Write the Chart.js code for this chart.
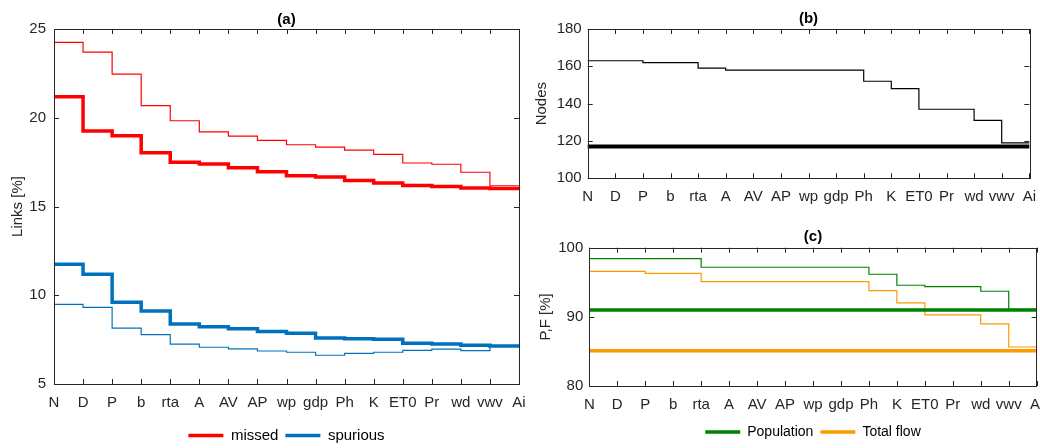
<!DOCTYPE html>
<html>
<head>
<meta charset="utf-8">
<script src="https://cdn.jsdelivr.net/npm/chart.js@4.4.1/dist/chart.umd.min.js"></script>
<style>
  html, body { margin: 0; padding: 0; background: #fff; }
  body { width: 1040px; height: 448px; overflow: hidden; position: relative; }
  canvas { position: absolute; }
</style>
</head>
<body>
<canvas id="chartA" width="550" height="453" style="left:0;top:0"></canvas>
<canvas id="chartB" width="530" height="215" style="left:530px;top:0"></canvas>
<canvas id="chartC" width="530" height="234" style="left:530px;top:215px"></canvas>
<script>
const cats = ["N", "D", "P", "b", "rta", "A", "AV", "AP", "wp", "gdp", "Ph", "K", "ET0", "Pr", "wd", "vwv", "Ai"];

// (a) links
const missedThick = [21.19, 19.25, 18.99, 18.03, 17.49, 17.39, 17.19, 16.96, 16.73, 16.66, 16.47, 16.32, 16.19, 16.12, 16.04, 16.02, 16.02];
const missedThin = [24.25, 23.7, 22.46, 20.68, 19.83, 19.2, 18.97, 18.73, 18.48, 18.34, 18.18, 17.94, 17.45, 17.38, 16.93, 16.17, 16.17];
const spuriousThick = [11.74, 11.18, 9.6, 9.11, 8.38, 8.23, 8.11, 7.96, 7.86, 7.59, 7.55, 7.52, 7.29, 7.25, 7.18, 7.14, 7.14];
const spuriousThin = [9.49, 9.32, 8.15, 7.78, 7.25, 7.07, 6.98, 6.86, 6.79, 6.62, 6.73, 6.79, 6.9, 6.96, 6.88, 7.12, 7.12];

// (b) nodes
const nodes = [163, 163, 162, 162, 159, 158, 158, 158, 158, 158, 152, 148, 137, 137, 131, 119, 119];
const nodesTotal = 117;

// (c) population / total flow
const population = [98.41, 98.41, 98.41, 98.41, 97.17, 97.17, 97.17, 97.17, 97.17, 97.17, 96.16, 94.57, 94.37, 94.37, 93.7, 91.1, 91.1];
const flow = [96.59, 96.59, 96.3, 96.3, 95.1, 95.1, 95.1, 95.1, 95.1, 95.1, 93.8, 92.03, 90.28, 90.28, 88.97, 85.64, 85.64];
const populationTotal = 91.0;
const flowTotal = 85.1;

const axisColor = "#262626";
const RED = "#ff0000", BLUE = "#0072bd", GREEN = "#008000", ORANGE = "#ff9900";

Chart.defaults.font.family = '"Liberation Sans", Arial, Helvetica, sans-serif';
Chart.defaults.font.size = 15;
Chart.defaults.color = axisColor;

// matlab style box with inward ticks
const boxPlugin = {
  id: "box",
  afterDatasetsDraw(chart) {
    const { ctx, chartArea: a, scales: { x, y } } = chart;
    const len = 5;
    ctx.save();
    ctx.strokeStyle = axisColor;
    ctx.lineWidth = 1;
    ctx.beginPath();
    x.ticks.forEach((t, i) => {
      const px = Math.round(x.getPixelForTick(i)) + 0.5;
      ctx.moveTo(px, a.bottom); ctx.lineTo(px, a.bottom - len);
      ctx.moveTo(px, a.top); ctx.lineTo(px, a.top + len);
    });
    y.ticks.forEach((t, i) => {
      const py = Math.round(y.getPixelForTick(i)) + 0.5;
      ctx.moveTo(a.left, py); ctx.lineTo(a.left + len, py);
      ctx.moveTo(a.right, py); ctx.lineTo(a.right - len, py);
    });
    ctx.stroke();
    ctx.strokeRect(Math.round(a.left) + 0.5, Math.round(a.top) + 0.5,
      Math.round(a.right - a.left), Math.round(a.bottom - a.top));
    ctx.restore();
  },
};

function stairs(label, data, color, width) {
  return {
    label, data,
    borderColor: color, backgroundColor: color,
    borderWidth: width, stepped: true,
    pointRadius: 0, fill: false,
  };
}

function flatLine(label, value, color, width) {
  return stairs(label, [{ x: cats[0], y: value }, { x: cats[cats.length - 1], y: value }], color, width);
}

function makeOptions(cfg) {
  return {
    responsive: false,
    animation: false,
    devicePixelRatio: 1,
    layout: { padding: cfg.padding },
    plugins: {
      title: {
        display: true, text: cfg.title, fullSize: false,
        font: { size: 15, weight: "bold" }, color: "#000",
        padding: cfg.titlePad,
      },
      legend: cfg.legend
        ? {
            display: true, position: "bottom", fullSize: false,
            labels: {
              usePointStyle: true, pointStyle: "line", pointStyleWidth: 35,
              padding: 7, font: { size: cfg.legendFont }, color: "#000",
              filter: (item) => cfg.legend.includes(item.text),
            },
          }
        : { display: false },
      tooltip: { enabled: false },
    },
    scales: {
      x: {
        type: "category",
        offset: false,
        grid: { display: false, drawTicks: false },
        border: { display: false },
        ticks: { autoSkip: false, maxRotation: 0, minRotation: 0, padding: 10 },
        afterFit: (s) => { s.height = cfg.xHeight; },
      },
      y: {
        min: cfg.yMin, max: cfg.yMax,
        grid: { display: false, drawTicks: false },
        border: { display: false },
        ticks: { stepSize: cfg.yStep, padding: cfg.yPad },
        title: { display: true, text: cfg.yTitle, font: { size: 15 }, padding: { top: cfg.yTitlePad, bottom: 0 } },
        afterFit: (s) => { s.width = cfg.yWidth; },
      },
    },
  };
}

new Chart(document.getElementById("chartA"), {
  type: "line",
  data: {
    labels: cats,
    datasets: [
      stairs("missed", missedThick, RED, 3.5),
      stairs("spurious", spuriousThick, BLUE, 3.5),
      stairs("missed (all)", missedThin, RED, 1.2),
      stairs("spurious (all)", spuriousThin, BLUE, 1.2),
    ],
  },
  options: makeOptions({
    title: "(a)", titlePad: { top: 11, bottom: 0 },
    padding: { left: 0, right: 31, top: 0, bottom: 0 },
    legend: ["missed", "spurious"], legendFont: 15,
    xHeight: 37, yWidth: 54, yPad: 8,
    yMin: 5, yMax: 25, yStep: 5,
    yTitle: "Links [%]", yTitlePad: 9,
  }),
  plugins: [boxPlugin],
});

new Chart(document.getElementById("chartB"), {
  type: "line",
  data: {
    labels: cats,
    datasets: [
      flatLine("all nodes", nodesTotal, "#000", 4),
      stairs("nodes", nodes, "#000", 1.2),
    ],
  },
  options: makeOptions({
    title: "(b)", titlePad: { top: 10, bottom: 1 },
    padding: { left: 0, right: 30.7, top: 0, bottom: 0 },
    legend: null,
    xHeight: 36.7, yWidth: 57.7, yPad: 6,
    yMin: 100, yMax: 180, yStep: 20,
    yTitle: "Nodes", yTitlePad: 3.3,
  }),
  plugins: [boxPlugin],
});

new Chart(document.getElementById("chartC"), {
  type: "line",
  data: {
    labels: cats,
    datasets: [
      flatLine("Population", populationTotal, GREEN, 3.5),
      flatLine("Total flow", flowTotal, ORANGE, 3.5),
      stairs("Population (steps)", population, GREEN, 1.2),
      stairs("Total flow (steps)", flow, ORANGE, 1.2),
    ],
  },
  options: makeOptions({
    title: "(c)", titlePad: { top: 13, bottom: 1.7 },
    padding: { left: 0, right: 23.3, top: 0, bottom: 0 },
    legend: ["Population", "Total flow"], legendFont: 14,
    xHeight: 32, yWidth: 59.3, yPad: 6,
    yMin: 80, yMax: 100, yStep: 10,
    yTitle: "P,F [%]", yTitlePad: 6.5,
  }),
  plugins: [boxPlugin],
});
</script>
</body>
</html>
